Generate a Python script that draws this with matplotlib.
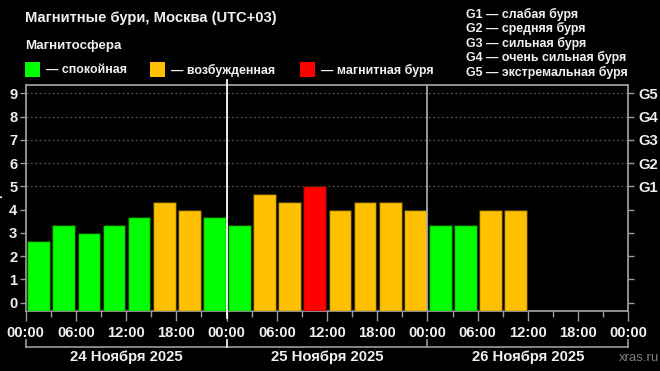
import matplotlib
matplotlib.use("Agg")
import matplotlib.pyplot as plt
from matplotlib.lines import Line2D
from matplotlib.patches import Rectangle

plt.rcParams['font.family'] = ['Liberation Sans', 'DejaVu Sans']

# ---- data ----
kp_values = [2.67, 3.33, 3.0, 3.33, 3.67, 4.33, 4.0, 3.67,
             3.33, 4.67, 4.33, 5.0, 4.0, 4.33, 4.33, 4.0,
             3.33, 3.33, 4.0, 4.0]
bin_hours = 3
x_tick_hours = [0, 6, 12, 18, 24, 30, 36, 42, 48, 54, 60, 66, 72]
x_tick_labels = ["00:00", "06:00", "12:00", "18:00"] * 3 + ["00:00"]
day_labels = ["24 Ноября 2025", "25 Ноября 2025", "26 Ноября 2025"]
right_ticks = [5, 6, 7, 8, 9]
right_labels = ["G1", "G2", "G3", "G4", "G5"]
g_legend = ["G1 — слабая буря", "G2 — средняя буря", "G3 — сильная буря",
            "G4 — очень сильная буря", "G5 — экстремальная буря"]
legend_items = [("— спокойная", "#00ff00"), ("— возбужденная", "#ffc000"),
                ("— магнитная буря", "#ff0000")]

GREEN, ORANGE, RED = "#00ff00", "#ffc000", "#ff0000"


def color_for(v):
    if v >= 5:
        return RED
    if v >= 4:
        return ORANGE
    return GREEN


W, H = 660, 371
fig = plt.figure(figsize=(6.6, 3.71), dpi=100, facecolor="black")


def fx(px):
    return px / W


def fy(py):
    return 1 - py / H


ax_left, ax_right, ax_top, ax_bot = 25.7, 628.3, 84.7, 310.5
ax = fig.add_axes([fx(ax_left), fy(ax_bot), fx(ax_right - ax_left), (ax_bot - ax_top) / H])
ax.set_facecolor("black")
ymin, ymax = -0.335, 9.37
ax.set_xlim(0, 72)
ax.set_ylim(ymin, ymax)

# bars
for i, v in enumerate(kp_values):
    xc = i * bin_hours + bin_hours / 2 + 0.05
    ax.bar(xc, v - ymin, bottom=ymin, width=2.72, color=color_for(v),
           edgecolor=(0.1, 0.1, 0, 0.55), linewidth=1.0, zorder=3)

# grid lines at 5..9
for g in right_ticks:
    ax.axhline(g, color="#555555", linestyle=(0, (1.5, 2)), linewidth=0.9, zorder=1)

for s in ax.spines.values():
    s.set_color("#9a9a9a")
    s.set_linewidth(1.3)

TICK_FS = 10.6
ax.set_yticks(range(10))
ax.set_yticklabels([str(i) for i in range(10)])
ax.tick_params(axis="y", colors="#9a9a9a", labelcolor="#f0f0f0", length=4, width=1,
               labelsize=TICK_FS, pad=2)
for lab in ax.get_yticklabels():
    lab.set_fontweight("bold")

ax.set_xticks(x_tick_hours)
ax.set_xticklabels(x_tick_labels)
ax.set_xticks(range(3, 72, 6), minor=True)
ax.tick_params(axis="x", which="major", colors="#9a9a9a", labelcolor="#f0f0f0",
               length=7, width=1, labelsize=TICK_FS, pad=4)
ax.tick_params(axis="x", which="minor", colors="#9a9a9a", length=4, width=1)
for lab in ax.get_xticklabels():
    lab.set_fontweight("bold")

# right axis
ax2 = ax.twinx()
ax2.set_ylim(ymin, ymax)
ax2.set_yticks(range(10))
ax2.set_yticklabels([""] * 5 + right_labels)
ax2.tick_params(axis="y", colors="#9a9a9a", labelcolor="#f0f0f0", length=4, width=1,
                labelsize=TICK_FS, pad=3)
for lab in ax2.get_yticklabels():
    lab.set_fontweight("bold")
for s in ax2.spines.values():
    s.set_visible(False)

# day separators
ax.axvline(48, color="#b0b0b0", linewidth=1.2, zorder=4)
x24 = ax_left + (ax_right - ax_left) * 24 / 72
fig.add_artist(Line2D([fx(x24), fx(x24)], [fy(80), fy(318)], color="white", linewidth=1.3))

# day brackets
by = 347
fig.add_artist(Line2D([fx(ax_left), fx(ax_right)], [fy(by), fy(by)], color="#9a9a9a", linewidth=1.2))
for d in range(4):
    xp = ax_left + (ax_right - ax_left) * d * 24 / 72
    col = "white" if d == 1 else "#9a9a9a"
    fig.add_artist(Line2D([fx(xp), fx(xp)], [fy(by - 7), fy(by)], color=col, linewidth=1.2))
for d, lab in enumerate(day_labels):
    xc = ax_left + (ax_right - ax_left) * (d * 24 + 12) / 72
    fig.text(fx(xc), fy(357.5), lab, color="#f0f0f0", fontsize=10.7, fontweight="bold",
             ha="center", va="center")

fig.text(fx(659), fy(358), "xras.ru", color="#808080", fontsize=9.5, ha="right", va="center")

# titles
fig.text(fx(25), fy(18), "Магнитные бури, Москва (UTC+03)", color="#f0f0f0", fontsize=10.6,
         fontweight="bold", ha="left", va="center")
fig.text(fx(25), fy(46), "Магнитосфера", color="#f0f0f0", fontsize=9.6,
         fontweight="bold", ha="left", va="center")

# legend
box_x = [25, 150, 300]
for (lab, col), bx in zip(legend_items, box_x):
    fig.add_artist(Rectangle((fx(bx), fy(77)), fx(15), 15 / H, facecolor=col,
                             edgecolor="none", transform=fig.transFigure))
    fig.text(fx(bx + 21), fy(70), lab, color="#f0f0f0", fontsize=8.9,
             fontweight="bold", ha="left", va="center")

# G legend
for i, t in enumerate(g_legend):
    fig.text(fx(466), fy(14 + i * 14.5), t, color="#f0f0f0", fontsize=8.9,
             fontweight="bold", ha="left", va="center")

# cut-off axis label at left edge (as in the reference)
fig.text(fx(-4), fy(198), "Kp", color="#f0f0f0", fontsize=9, fontweight="bold",
         rotation=90, ha="center", va="center")

fig.savefig("out.png", dpi=100, facecolor="black")
